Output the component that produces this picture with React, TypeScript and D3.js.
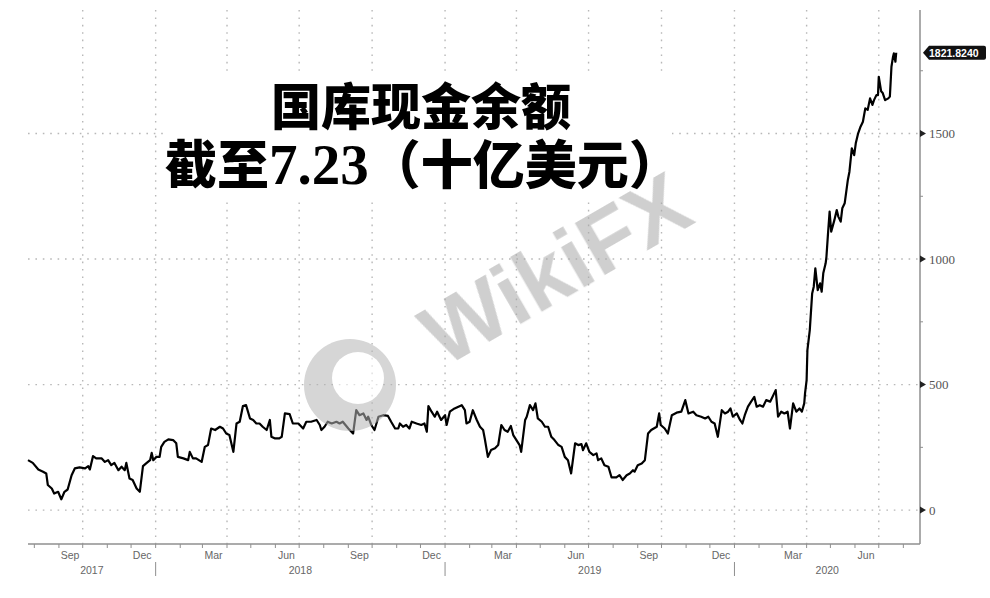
import React from "react";
import * as d3 from "d3";

const dates: string[] = [
  "2017-07-24","2017-07-30","2017-08-06","2017-08-12","2017-08-16","2017-08-18","2017-08-23","2017-08-26","2017-08-31",
  "2017-09-04","2017-09-08","2017-09-12","2017-09-17","2017-09-21","2017-09-27","2017-10-04","2017-10-08","2017-10-10",
  "2017-10-14","2017-10-18","2017-10-25","2017-10-29","2017-11-02","2017-11-06","2017-11-10","2017-11-15","2017-11-19",
  "2017-11-23","2017-11-25","2017-11-29","2017-12-03","2017-12-08","2017-12-12","2017-12-16","2017-12-20","2017-12-25",
  "2017-12-27","2017-12-29",
  "2018-01-02","2018-01-06","2018-01-08","2018-01-12","2018-01-17","2018-01-23","2018-01-27","2018-01-29","2018-02-05",
  "2018-02-11","2018-02-13","2018-02-17","2018-02-21","2018-02-28","2018-03-04","2018-03-08","2018-03-12","2018-03-17",
  "2018-03-23","2018-03-27","2018-03-31","2018-04-04","2018-04-09","2018-04-13","2018-04-17","2018-04-21","2018-04-25",
  "2018-04-30","2018-05-04","2018-05-08","2018-05-12","2018-05-16","2018-05-21","2018-05-25","2018-05-27","2018-05-31",
  "2018-06-06","2018-06-09","2018-06-13","2018-06-19","2018-06-23","2018-06-30","2018-07-06","2018-07-10","2018-07-16",
  "2018-07-23","2018-07-27","2018-07-29","2018-08-02","2018-08-06","2018-08-11","2018-08-17","2018-08-21","2018-08-25",
  "2018-09-01","2018-09-07","2018-09-11","2018-09-15","2018-09-20","2018-09-24","2018-09-26","2018-09-30","2018-10-04",
  "2018-10-09","2018-10-15","2018-10-21","2018-10-25","2018-10-30","2018-11-03","2018-11-05","2018-11-09","2018-11-13",
  "2018-11-17","2018-11-20","2018-11-26","2018-12-02","2018-12-06","2018-12-09","2018-12-11","2018-12-15","2018-12-19",
  "2018-12-22","2018-12-27",
  "2019-01-01","2019-01-03","2019-01-07","2019-01-13","2019-01-22","2019-01-26","2019-01-28","2019-02-01","2019-02-05",
  "2019-02-10","2019-02-14","2019-02-18","2019-02-20","2019-02-24","2019-02-28","2019-03-05","2019-03-09","2019-03-13",
  "2019-03-17","2019-03-21","2019-03-25","2019-03-28","2019-04-01","2019-04-05","2019-04-07","2019-04-12","2019-04-14",
  "2019-04-18","2019-04-22","2019-04-25","2019-04-28","2019-05-03","2019-05-07","2019-05-11","2019-05-15","2019-05-19",
  "2019-05-24","2019-05-28","2019-06-01","2019-06-05","2019-06-09","2019-06-14","2019-06-18","2019-06-22","2019-06-24",
  "2019-06-28","2019-07-02","2019-07-07","2019-07-11","2019-07-13","2019-07-17","2019-07-21","2019-07-26","2019-07-30",
  "2019-08-05","2019-08-09","2019-08-13","2019-08-18","2019-08-22","2019-08-26","2019-08-28","2019-09-01","2019-09-06",
  "2019-09-10","2019-09-14","2019-09-18","2019-09-25","2019-09-28","2019-09-30","2019-10-05","2019-10-09","2019-10-14",
  "2019-10-20","2019-10-26","2019-10-31","2019-11-04","2019-11-10","2019-11-14","2019-11-20","2019-11-25","2019-11-29",
  "2019-12-03","2019-12-07","2019-12-11","2019-12-16","2019-12-20","2019-12-24","2019-12-27","2019-12-30",
  "2020-01-04","2020-01-08","2020-01-11","2020-01-14","2020-01-18","2020-01-22","2020-01-26","2020-01-29","2020-02-02",
  "2020-02-06","2020-02-10","2020-02-15","2020-02-19","2020-02-22","2020-02-25","2020-02-29","2020-03-04","2020-03-08",
  "2020-03-11","2020-03-15","2020-03-19","2020-03-23","2020-03-26","2020-03-29","2020-03-30","2020-04-01","2020-04-02",
  "2020-04-05","2020-04-08","2020-04-10","2020-04-12","2020-04-15","2020-04-18","2020-04-20","2020-04-22","2020-04-25",
  "2020-04-26","2020-04-28","2020-04-30","2020-05-02","2020-05-06","2020-05-09","2020-05-11","2020-05-14","2020-05-16",
  "2020-05-19","2020-05-23","2020-05-25","2020-05-28","2020-05-31","2020-06-02","2020-06-05","2020-06-08","2020-06-11",
  "2020-06-14","2020-06-17","2020-06-20","2020-06-23","2020-06-25","2020-06-28","2020-06-30","2020-07-01","2020-07-04",
  "2020-07-06","2020-07-09","2020-07-13","2020-07-15","2020-07-17","2020-07-19","2020-07-20","2020-07-22","2020-07-23",
];

const cashBalance: number[] = [
  199,188,162,153,146,100,86,66,73,
  43,73,82,139,166,170,166,175,162,
  215,206,206,192,199,179,188,159,173,
  159,188,126,120,86,73,175,186,199,
  228,199,
  212,212,252,272,282,279,266,212,206,
  199,232,206,206,192,252,259,325,319,
  332,325,305,299,232,345,352,414,418,
  365,359,345,345,332,319,359,292,286,
  286,292,385,382,345,345,325,352,352,
  359,339,319,332,352,345,352,345,352,
  325,305,398,378,385,359,372,339,319,
  372,378,375,352,325,325,345,332,339,
  325,352,345,339,345,312,414,392,372,
  392,359,
  378,339,392,405,418,398,345,352,398,
  359,332,319,286,212,239,246,259,339,
  319,312,335,299,279,259,232,359,372,
  418,398,425,365,352,332,332,292,279,
  259,252,212,199,146,266,259,263,239,
  266,232,219,226,199,206,179,173,130,
  130,139,120,139,146,159,153,179,186,
  199,305,319,332,385,339,325,305,378,
  388,392,438,385,392,378,372,365,372,
  352,345,292,398,385,392,405,372,
  385,359,345,378,412,432,451,412,418,
  412,438,432,458,478,372,392,385,392,
  325,425,392,405,392,425,465,518,637,
  717,863,890,963,876,903,870,943,983,
  1009,1102,1189,1109,1155,1195,1169,1149,1202,
  1222,1315,1348,1441,1414,1461,1501,1527,1547,
  1600,1594,1640,1614,1633,1653,1653,1726,1668,
  1661,1633,1640,1647,1766,1806,1819,1786,1821.824,
];

const yTicks: number[] = [0, 500, 1000, 1500];
const yMinorTicks: number[] = [250, 750, 1250, 1750];
const yearLabels: string[] = ["2017", "2018", "2019", "2020"];
const lastLabel = "1821.8240";
const titleLine1 = "国库现金余额";
const titleLine2a = "截至";
const titleLine2b = "7.23";
const titleLine2c = "（十亿美元）";

const W = 990;
const H = 598;
const left = 28;
const right = 920;
const top = 10;
const bottom = 544;

export default function App() {
  const parse = d3.timeParse("%Y-%m-%d");
  const series = dates.map((d, i) => ({ date: parse(d) as Date, value: cashBalance[i] }));

  const x = d3
    .scaleTime()
    .domain([new Date(2017, 6, 24), new Date(2020, 7, 22)])
    .range([left, right]);
  const y = d3.scaleLinear().domain([-135, 1992]).range([bottom, top]);

  const line = d3
    .line<{ date: Date; value: number }>()
    .x((d) => x(d.date))
    .y((d) => y(d.value));

  const [d0, d1] = x.domain();
  const quarterLines = d3.timeMonth.every(3)!.range(d0, d1);
  const monthTicks = d3.timeMonth.range(d0, d1);
  const fmtMonth = d3.timeFormat("%b");
  const monthLabels = quarterLines.map((q) => {
    const prev = d3.timeMonth.offset(q, -1);
    return { date: new Date(prev.getFullYear(), prev.getMonth(), 15), text: fmtMonth(prev) };
  });
  const yearStarts = d3.timeYear.range(d0, d1);
  const yearPos = yearLabels.map((lab) => {
    const yr = +lab;
    const s = new Date(Math.max(+d0, +new Date(yr, 0, 1)));
    const e = new Date(Math.min(+d1, +new Date(yr + 1, 0, 1)));
    return { text: lab, x: (x(s) + x(e)) / 2 };
  });

  const last = series[series.length - 1];
  const ly = y(last.value);

  const gridColor = "#b8b8b8";
  const axisColor = "#8f8f8f";
  const titleFont = "'Liberation Serif', 'Noto Sans CJK SC', serif";

  return (
    <svg
      width={W}
      height={H}
      style={{ position: "absolute", left: 0, top: 0, background: "#fff" }}
    >
      <rect x={0} y={0} width={W} height={H} fill="#fff" />
      {quarterLines.map((q, i) => (
        <line
          key={"vg" + i}
          x1={x(q)}
          x2={x(q)}
          y1={top}
          y2={bottom}
          stroke={gridColor}
          strokeWidth={1.4}
          strokeDasharray="1.6 5.8"
        />
      ))}
      {yTicks.map((t) => (
        <line
          key={"hg" + t}
          x1={left}
          x2={right}
          y1={y(t)}
          y2={y(t)}
          stroke={gridColor}
          strokeWidth={1.4}
          strokeDasharray="1.6 5.8"
        />
      ))}

      <rect x={163} y={76} width={509} height={122} fill="#fff" />

      <line x1={left} x2={right} y1={bottom} y2={bottom} stroke={axisColor} strokeWidth={1.5} />
      <line x1={right} x2={right} y1={top} y2={bottom} stroke={axisColor} strokeWidth={1.5} />

      {monthTicks.map((m, i) => (
        <line key={"mt" + i} x1={x(m)} x2={x(m)} y1={bottom} y2={bottom + 4} stroke={axisColor} strokeWidth={1} />
      ))}
      {monthLabels.map((m, i) => (
        <text
          key={"ml" + i}
          x={x(m.date)}
          y={555}
          textAnchor="middle"
          dominantBaseline="central"
          fontFamily="'Liberation Sans', Arial, sans-serif"
          fontSize={10.5}
          fill="#666"
        >
          {m.text}
        </text>
      ))}
      {yearStarts.map((ys, i) => (
        <line key={"ys" + i} x1={x(ys)} x2={x(ys)} y1={562} y2={576} stroke={axisColor} strokeWidth={1} />
      ))}
      {yearPos.map((yp) => (
        <text
          key={"yl" + yp.text}
          x={yp.x}
          y={570}
          textAnchor="middle"
          dominantBaseline="central"
          fontFamily="'Liberation Sans', Arial, sans-serif"
          fontSize={10.5}
          fill="#666"
        >
          {yp.text}
        </text>
      ))}

      {yMinorTicks.map((t) => (
        <line key={"ym" + t} x1={right} x2={right + 3} y1={y(t)} y2={y(t)} stroke={axisColor} strokeWidth={1} />
      ))}
      {yTicks.map((t) => (
        <g key={"yt" + t}>
          <path
            d={`M${right},${y(t) - 3.5} L${right + 6},${y(t)} L${right},${y(t) + 3.5} Z`}
            fill="#222"
          />
          <text
            x={right + 9}
            y={y(t)}
            dominantBaseline="central"
            fontFamily="'Liberation Serif', 'DejaVu Serif', serif"
            fontSize={13}
            fill="#555"
          >
            {t}
          </text>
        </g>
      ))}

      <path d={line(series) || ""} fill="none" stroke="#000" strokeWidth={2.2} strokeLinejoin="round" />

      <path
        d={`M${right + 3},${ly} L${right + 9},${ly - 7} L${W - 6},${ly - 7} Q${W - 4},${ly - 7} ${W - 4},${ly - 5} L${W - 4},${ly + 5} Q${W - 4},${ly + 7} ${W - 6},${ly + 7} L${right + 9},${ly + 7} Z`}
        fill="#111"
      />
      <text
        x={right + 9}
        y={ly + 0.5}
        dominantBaseline="central"
        fontFamily="'Liberation Sans', Arial, sans-serif"
        fontSize={10.5}
        fontWeight="bold"
        fill="#fff"
      >
        {lastLabel}
      </text>

      <text
        x={421}
        y={125}
        textAnchor="middle"
        fontFamily={titleFont}
        fontSize={50}
        fontWeight={900}
        fill="#000"
      >
        {titleLine1}
      </text>
      <text x={165} y={184} fontFamily={titleFont} fontWeight={900} fill="#000" fontSize={52}>
        <tspan>{titleLine2a}</tspan>
        <tspan fontSize={57}>{titleLine2b}</tspan>
        <tspan>{titleLine2c}</tspan>
      </text>

      <g opacity={0.55}>
        <circle cx={350} cy={385} r={46} fill="#b4b4b4" />
        <circle cx={358} cy={378} r={26} fill="#ffffff" />
        <text
          x={555}
          y={268}
          textAnchor="middle"
          dominantBaseline="central"
          transform="rotate(-30 555 268)"
          fontFamily="'Liberation Sans', Arial, sans-serif"
          fontSize={88}
          fontWeight="bold"
          fill="#a8a8a8"
        >
          WikiFX
        </text>
      </g>
    </svg>
  );
}
